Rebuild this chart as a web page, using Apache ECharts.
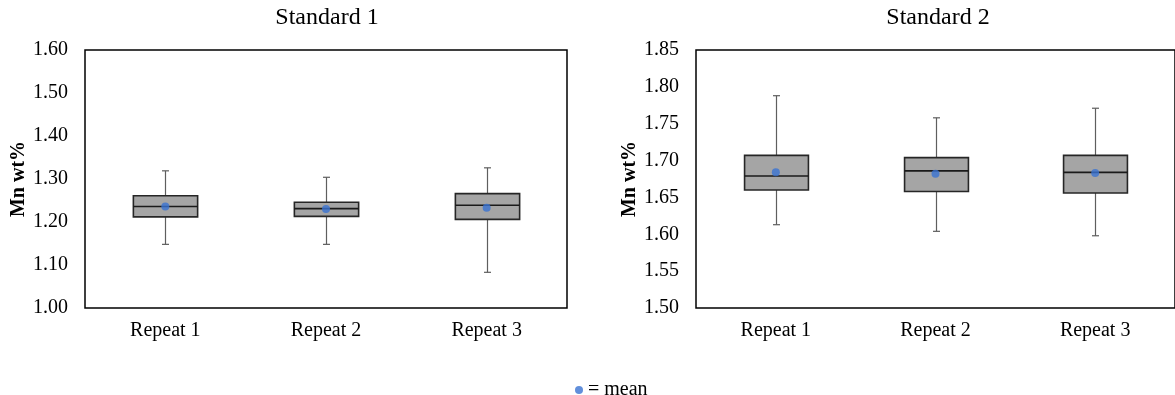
<!DOCTYPE html>
<html>
<head>
<meta charset="utf-8">
<script src="https://cdn.jsdelivr.net/npm/echarts@6/dist/echarts.min.js"></script>
<style>
  html, body { margin: 0; padding: 0; background: #fff; }
  #chart { width: 1175px; height: 395px; }
</style>
</head>
<body>
<div id="chart"></div>
<script>
// Mn wt% repeat measurements on two standards
const categories = ['Repeat 1', 'Repeat 2', 'Repeat 3'];

const std1Min    = [1.148, 1.148, 1.083];
const std1Q1     = [1.212, 1.213, 1.206];
const std1Median = [1.236, 1.231, 1.239];
const std1Q3     = [1.261, 1.246, 1.266];
const std1Max    = [1.319, 1.304, 1.326];
const std1Mean   = [1.236, 1.230, 1.233];

const std2Min    = [1.613, 1.604, 1.598];
const std2Q1     = [1.660, 1.658, 1.656];
const std2Median = [1.679, 1.686, 1.684];
const std2Q3     = [1.707, 1.704, 1.707];
const std2Max    = [1.788, 1.758, 1.771];
const std2Mean   = [1.684, 1.682, 1.683];

const std1Ticks = { min: 1.00, max: 1.60, interval: 0.10 };
const std2Ticks = { min: 1.50, max: 1.85, interval: 0.05 };

const FONT = "'Liberation Serif', 'Times New Roman', serif";
const MEAN_COLOR = '#3a73d2';

function boxRows(mins, q1s, meds, q3s, maxs) {
  return categories.map((c, i) => [i, mins[i], q1s[i], meds[i], q3s[i], maxs[i]]);
}

// Box-and-whisker glyph: thin grey whiskers, dark-outlined grey box, median line
function renderBox(params, api) {
  const x = api.value(0);
  const pMin = api.coord([x, api.value(1)]);
  const pQ1 = api.coord([x, api.value(2)]);
  const pMed = api.coord([x, api.value(3)]);
  const pQ3 = api.coord([x, api.value(4)]);
  const pMax = api.coord([x, api.value(5)]);
  const band = api.size([1, 0])[0];
  const w = band * 0.4;
  const cx = Math.round(pMed[0]) + 0.5;
  const left = cx - w / 2;
  const cap = 3.5;
  const whisker = { stroke: '#5e5e5e', lineWidth: 1.2 };
  return {
    type: 'group',
    children: [
      { type: 'line', shape: { x1: cx, y1: pMax[1], x2: cx, y2: pQ3[1] }, style: whisker },
      { type: 'line', shape: { x1: cx, y1: pQ1[1], x2: cx, y2: pMin[1] }, style: whisker },
      { type: 'line', shape: { x1: cx - cap, y1: pMax[1], x2: cx + cap, y2: pMax[1] }, style: whisker },
      { type: 'line', shape: { x1: cx - cap, y1: pMin[1], x2: cx + cap, y2: pMin[1] }, style: whisker },
      { type: 'rect', shape: { x: left, y: pQ3[1], width: w, height: pQ1[1] - pQ3[1] },
        style: { fill: '#a5a5a5', stroke: '#262626', lineWidth: 1.6 } },
      { type: 'line', shape: { x1: left, y1: pMed[1], x2: left + w, y2: pMed[1] },
        style: { stroke: '#1a1a1a', lineWidth: 1.6 } }
    ]
  };
}

function xAxisFor(gridIndex) {
  return {
    type: 'category', gridIndex, data: categories,
    axisLine: { show: false }, axisTick: { show: false },
    axisLabel: { color: '#000', fontFamily: FONT, fontSize: 20, margin: 13 }
  };
}

function yAxisFor(gridIndex, t) {
  return {
    type: 'value', gridIndex, min: t.min, max: t.max, interval: t.interval,
    name: 'Mn wt%', nameLocation: 'middle', nameGap: 56,
    nameTextStyle: { color: '#000', fontFamily: FONT, fontSize: 20, fontWeight: 'bold' },
    axisLine: { show: false }, axisTick: { show: false }, splitLine: { show: false },
    axisLabel: { color: '#000', fontFamily: FONT, fontSize: 20, margin: 17,
      formatter: v => v.toFixed(2) }
  };
}

const chart = echarts.init(document.getElementById('chart'), null, { renderer: 'canvas' });

chart.setOption({
  backgroundColor: '#fff',
  animation: false,
  graphic: [
    { type: 'text', x: 327, y: 6, style: { text: 'Standard 1', fill: '#000', font: '24px ' + FONT, textAlign: 'center' } },
    { type: 'text', x: 938, y: 6, style: { text: 'Standard 2', fill: '#000', font: '24px ' + FONT, textAlign: 'center' } }
  ],
  legend: {
    data: ['= mean'], left: 570, top: 375,
    icon: 'circle', itemWidth: 8, itemHeight: 8, itemGap: 4,
    textStyle: { color: '#000', fontFamily: FONT, fontSize: 20 }
  },
  grid: [
    { left: 85, top: 50, width: 482, height: 258, show: true, borderColor: '#000', borderWidth: 1.5, backgroundColor: 'transparent' },
    { left: 696, top: 50, width: 484, height: 258, show: true, borderColor: '#000', borderWidth: 1.5, backgroundColor: 'transparent' }
  ],
  xAxis: [xAxisFor(0), xAxisFor(1)],
  yAxis: [yAxisFor(0, std1Ticks), yAxisFor(1, std2Ticks)],
  series: [
    {
      type: 'custom', xAxisIndex: 0, yAxisIndex: 0,
      renderItem: renderBox,
      encode: { x: 0, y: [1, 2, 3, 4, 5] },
      data: boxRows(std1Min, std1Q1, std1Median, std1Q3, std1Max)
    },
    {
      type: 'custom', xAxisIndex: 1, yAxisIndex: 1,
      renderItem: renderBox,
      encode: { x: 0, y: [1, 2, 3, 4, 5] },
      data: boxRows(std2Min, std2Q1, std2Median, std2Q3, std2Max)
    },
    {
      name: '= mean', type: 'scatter', xAxisIndex: 0, yAxisIndex: 0,
      symbol: 'circle', symbolSize: 8, z: 5,
      itemStyle: { color: MEAN_COLOR },
      data: std1Mean
    },
    {
      name: '= mean', type: 'scatter', xAxisIndex: 1, yAxisIndex: 1,
      symbol: 'circle', symbolSize: 8, z: 5,
      itemStyle: { color: MEAN_COLOR },
      data: std2Mean
    }
  ]
});
</script>
</body>
</html>
